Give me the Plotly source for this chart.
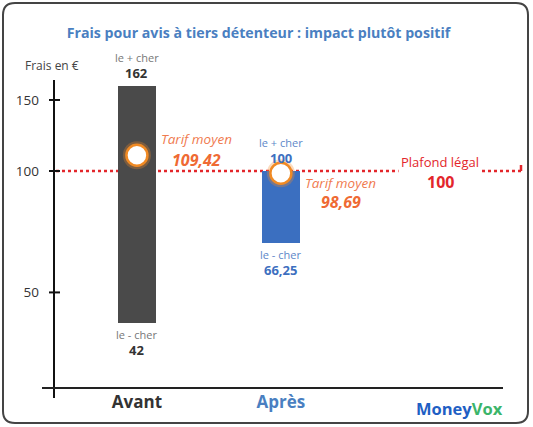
import math
import plotly.graph_objects as go

# Données
categories = ["Avant", "Après"]
prix_max = [162, 100]
prix_min = [42, 66.25]
tarif_moyen = [109.42, 98.69]
plafond_legal = 100
y_ticks = [50, 100, 150]

bar_colors = ["#4a4a4a", "#3b6fc0"]
label_colors = ["#777777", "#5d87c9"]
value_colors = ["#333333", "#3d6fbf"]
cat_colors = ["#333333", "#4a7fc1"]

W, H = 533, 427
L, R, T, B = 54, 29, 75, 39
PW, PH = W - L - R, H - T - B


def px(x):
    return (x - L) / PW


def py(y):
    return (H - B - y) / PH


def fr(v):
    return f"{v:g}".replace(".", ",")


lg = math.log10  # les annotations sur un axe log se placent en log10

font = "Open Sans"
x_idx = list(range(len(categories)))

fig = go.Figure()

# barres min -> max
fig.add_trace(go.Bar(
    x=x_idx, base=prix_min,
    y=[hi - lo for hi, lo in zip(prix_max, prix_min)],
    width=0.264, marker=dict(color=bar_colors, line_width=0),
    hoverinfo="skip", showlegend=False))

# tarif moyen : halo + cercle
fig.add_trace(go.Scatter(
    x=x_idx, y=tarif_moyen, mode="markers",
    marker=dict(size=28, color="rgba(245,140,40,0.3)", line_width=0),
    hoverinfo="skip", showlegend=False))
fig.add_trace(go.Scatter(
    x=x_idx, y=tarif_moyen, mode="markers",
    marker=dict(size=21, color="white", line=dict(color="#f08a24", width=2.5)),
    hoverinfo="skip", showlegend=False))

shapes = []
# plafond légal, pointillés rouges
shapes.append(dict(type="line", xref="paper", yref="y", x0=px(56), x1=px(522),
                   y0=plafond_legal, y1=plafond_legal, layer="below",
                   line=dict(color="#e3262b", width=2.5, dash="dot")))
shapes.append(dict(type="line", xref="paper", yref="y", xsizemode="pixel", xanchor=px(521),
                   x0=0, x1=0, ysizemode="pixel", yanchor=plafond_legal, y0=-6, y1=6,
                   line=dict(color="#e3262b", width=2.5)))
# axes
shapes.append(dict(type="line", xref="paper", yref="paper", x0=px(54), x1=px(54),
                   y0=py(398), y1=py(80), line=dict(color="#111111", width=2)))
shapes.append(dict(type="line", xref="paper", yref="paper", x0=px(42), x1=px(503),
                   y0=0, y1=0, line=dict(color="#222222", width=2)))
for t in y_ticks:
    shapes.append(dict(type="line", xref="paper", yref="y", xsizemode="pixel", xanchor=0,
                       x0=-5, x1=6, y0=t, y1=t, line=dict(color="#111111", width=2)))

# cadre arrondi
x0, x1, y0, y1, r = 3, 528, 3, 423, 12
path = (f"M {px(x0 + r)},{py(y0)} L {px(x1 - r)},{py(y0)} Q {px(x1)},{py(y0)} {px(x1)},{py(y0 + r)} "
        f"L {px(x1)},{py(y1 - r)} Q {px(x1)},{py(y1)} {px(x1 - r)},{py(y1)} "
        f"L {px(x0 + r)},{py(y1)} Q {px(x0)},{py(y1)} {px(x0)},{py(y1 - r)} "
        f"L {px(x0)},{py(y0 + r)} Q {px(x0)},{py(y0)} {px(x0 + r)},{py(y0)} Z")
shapes.append(dict(type="path", xref="paper", yref="paper", path=path,
                   line=dict(color="#444444", width=2)))

annotations = []
for i in x_idx:
    annotations += [
        dict(x=i, y=lg(prix_max[i]), text="le + cher", yshift=19, yanchor="bottom",
             font=dict(size=11, color=label_colors[i])),
        dict(x=i, y=lg(prix_max[i]), text=f"<b>{fr(prix_max[i])}</b>", yshift=2, yanchor="bottom",
             font=dict(size=13, color=value_colors[i])),
        dict(x=i, y=lg(prix_min[i]), text="le - cher", yshift=-2, yanchor="top",
             font=dict(size=11, color=label_colors[i])),
        dict(x=i, y=lg(prix_min[i]), text=f"<b>{fr(prix_min[i])}</b>", yshift=-16, yanchor="top",
             font=dict(size=13, color=value_colors[i])),
    ]

mean_shift = [(16, -5), (-10, -29)]
for i in x_idx:
    annotations += [
        dict(x=i, y=lg(tarif_moyen[i]), text="<i>Tarif moyen</i>", xshift=60, yshift=mean_shift[i][0],
             font=dict(size=13.5, color="#f07b4f")),
        dict(x=i, y=lg(tarif_moyen[i]), text=f"<b><i>{fr(tarif_moyen[i])}</i></b>", xshift=60,
             yshift=mean_shift[i][1], font=dict(size=16, color="#ef6a33")),
    ]

annotations += [
    dict(xref="paper", x=px(440), y=lg(plafond_legal), text="Plafond légal", yshift=9,
         bgcolor="white", borderpad=2, font=dict(size=13, color="#e3262b")),
    dict(xref="paper", x=px(440), y=lg(plafond_legal), text=f"<b>{fr(plafond_legal)}</b>",
         yshift=-11, bgcolor="white", borderpad=0, font=dict(size=16, color="#e3262b")),
    dict(xref="paper", yref="paper", x=px(52), y=py(65), text="Frais en €",
         font=dict(size=12, color="#444444")),
    dict(xref="paper", yref="paper", x=px(459), y=py(408),
         text="<b><span style='color:#1f5fc4'>Money</span><span style='color:#3bb56a'>Vox</span></b>",
         font=dict(size=16.5)),
]

for a in annotations:
    a.setdefault("showarrow", False)
    a.setdefault("xref", "x")
    a.setdefault("yref", "y")
    a.setdefault("xanchor", "center")
    a.setdefault("yanchor", "middle")

fig.update_layout(
    width=W, height=H,
    margin=dict(l=L, r=R, t=T, b=B),
    paper_bgcolor="white", plot_bgcolor="white",
    font=dict(family=font, color="#333333"),
    title=dict(text="<b>Frais pour avis à tiers détenteur : impact plutôt positif</b>",
               x=258.5 / W, xref="container", xanchor="center",
               y=1 - 33 / H, yanchor="middle",
               font=dict(size=14.2, color="#4a7fc1")),
    xaxis=dict(range=[-0.576, 2.55], tickvals=x_idx,
               ticktext=[f"<b><span style='color:{c}'>{n}</span></b>" for n, c in zip(categories, cat_colors)],
               tickfont=dict(size=17), showgrid=False, zeroline=False, showline=False,
               ticks="", ticklabelstandoff=2, fixedrange=True),
    yaxis=dict(type="log", range=[1.462, 2.238], tickvals=y_ticks,
               ticktext=[str(t) for t in y_ticks], tickfont=dict(size=13.5, color="#333333"),
               showgrid=False, zeroline=False, showline=False, ticks="",
               ticklabelstandoff=14, fixedrange=True),
    shapes=shapes, annotations=annotations,
    bargap=0,
)

fig.write_html("out.html", config={"displayModeBar": False},
               post_script="document.body.style.margin='0';document.body.style.overflow='hidden';")
